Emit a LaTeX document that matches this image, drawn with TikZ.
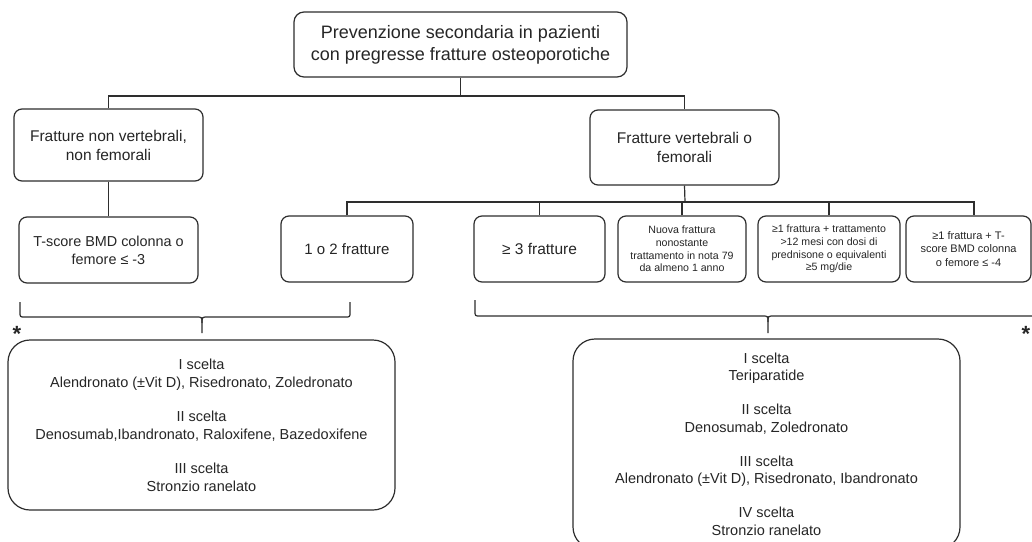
\documentclass[tikz,border=0pt]{standalone}
\usepackage{fontspec}
\setmainfont{Liberation Sans}
\definecolor{linec}{HTML}{2E2E2E}
\definecolor{textc}{HTML}{262626}
\tikzset{
  box/.style={draw=linec, line width=1.2pt, rounded corners=8pt, align=center, inner sep=0pt, text=textc},
  bigbox/.style={box, rounded corners=22pt},
  conn/.style={draw=linec, line width=1.2pt},
  star/.style={text=textc, font=\fs{22}{22}\bfseries, inner sep=0pt, anchor=north},
}
\newcommand{\fs}[2]{\fontsize{#1pt}{#2pt}\selectfont}
\begin{document}
\begin{tikzpicture}[x=1pt,y=-1pt]
\useasboundingbox (0,0) rectangle (1032,541);
\clip (0,0) rectangle (1032,541);
\fill[white] (0,0) rectangle (1032,541);

\node[box, rounded corners=10pt, minimum width=333pt, minimum height=65pt, font=\fs{18}{22}] (top) at (460.5,44.5)
  {Prevenzione secondaria in pazienti\\con pregresse fratture osteoporotiche};

\node[box, minimum width=189pt, minimum height=72pt, font=\fs{15.5}{19}] (fnv) at (108.5,145)
  {Fratture non vertebrali,\\non femorali};
\node[box, minimum width=189pt, minimum height=75pt, font=\fs{15.5}{19}] (fv) at (684.5,147.5)
  {Fratture vertebrali o\\femorali};

\node[box, minimum width=179pt, minimum height=66pt, font=\fs{14.4}{18}] (tsc) at (108.5,250)
  {T-score BMD colonna o\\femore ≤ -3};
\node[box, minimum width=132pt, minimum height=66pt, font=\fs{15}{18}] (b12) at (347,249)
  {1 o 2 fratture};
\node[box, minimum width=131pt, minimum height=66pt, font=\fs{15.5}{18}] (b3) at (539.5,249)
  {≥ 3 fratture};
\node[box, minimum width=128pt, minimum height=66pt, font=\fs{10.6}{12.7}] (bnn) at (682,249)
  {Nuova frattura\\nonostante\\trattamento in nota 79\\da almeno 1 anno};
\node[box, minimum width=142pt, minimum height=66pt, font=\fs{10.6}{12.7}] (btr) at (829,249)
  {≥1 frattura + trattamento\\>12 mesi con dosi di\\prednisone o equivalenti\\≥5 mg/die};
\node[box, minimum width=125pt, minimum height=66pt, font=\fs{11}{13.5}] (bts) at (968.5,249)
  {≥1 frattura + T-\\score BMD colonna\\o femore ≤ -4};

\node[bigbox, minimum width=387pt, minimum height=170pt, font=\fs{14.5}{18}] (lres) at (201.5,425)
  {I scelta\\Alendronato (±Vit D), Risedronato, Zoledronato\\[16pt]
   II scelta\\Denosumab,Ibandronato, Raloxifene, Bazedoxifene\\[16pt]
   III scelta\\Stronzio ranelato};
\node[bigbox, minimum width=387pt, minimum height=210pt, font=\fs{14.5}{17.5}] (rres) at (766.5,444)
  {I scelta\\Teriparatide\\[16.5pt]
   II scelta\\Denosumab, Zoledronato\\[16.5pt]
   III scelta\\Alendronato (±Vit D), Risedronato, Ibandronato\\[16.5pt]
   IV scelta\\Stronzio ranelato};

\node[star] (astl) at (17,326) {*};
\node[star] (astr) at (1026,326) {*};

% connectors
\coordinate (j1) at (460.5,96);
\coordinate (j2) at (685,202);
\draw[conn] (top.south) -- (j1);
\draw[conn] (fnv.north) |- (j1) -| (fv.north);
\draw[conn] (fnv.south) -- (tsc.north);
\draw[conn] (fv.south) -- (j2);
\draw[conn] (b12.north) |- (j2) -| ([xshift=5.5pt]bts.north);
\draw[conn] (b3.north) -- (b3.north |- j2);
\draw[conn] (bnn.north) -- (bnn.north |- j2);
\draw[conn] (btr.north) -- (btr.north |- j2);

% braces
\draw[conn, line join=round]
  (20,302) -- (20,312) .. controls (20,317) .. (25,317) -- (196,317)
  .. controls (202,317) .. (202,323) -- (202,333);
\draw[conn, line join=round]
  (350,302) -- (350,312) .. controls (350,317) .. (345,317) -- (208,317)
  .. controls (202,317) .. (202,323);
\draw[conn, line join=round]
  (475,300) -- (475,311) .. controls (475,316) .. (480,316) -- (762,316)
  .. controls (768,316) .. (768,322) -- (768,333);
\draw[conn, line join=round]
  (1045,300) -- (1045,311) .. controls (1045,316) .. (1040,316) -- (774,316)
  .. controls (768,316) .. (768,322);
\end{tikzpicture}
\end{document}
